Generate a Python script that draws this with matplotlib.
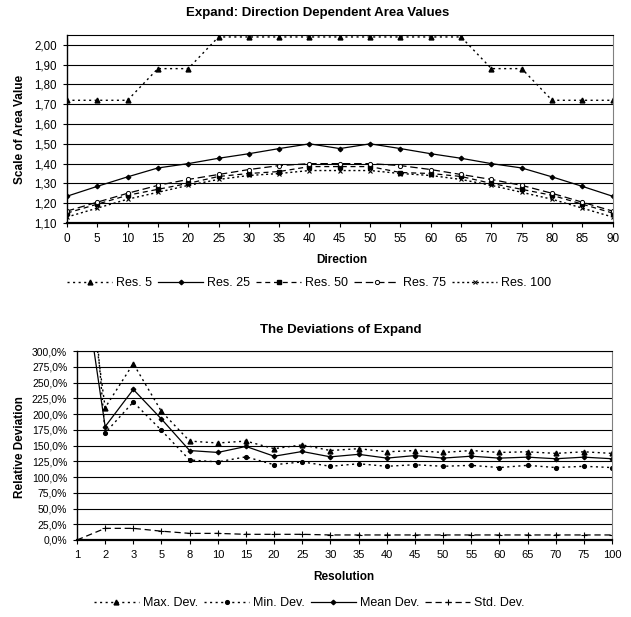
import numpy as np
import matplotlib
matplotlib.use("Agg")
import matplotlib.pyplot as plt
from matplotlib.ticker import FuncFormatter

plt.rcParams["font.family"] = ["Liberation Sans", "DejaVu Sans"]
plt.rcParams["font.size"] = 8

# Top chart : scale of area value per direction
direction = [0, 5, 10, 15, 20, 25, 30, 35, 40, 45, 50, 55, 60, 65, 70, 75, 80, 85, 90]
res5 = [1.72, 1.72, 1.72, 1.88, 1.88, 2.04, 2.04, 2.04, 2.04, 2.04, 2.04, 2.04, 2.04, 2.04, 1.88, 1.88, 1.72, 1.72, 1.72]
res25 = [1.235, 1.285, 1.333, 1.378, 1.40, 1.427, 1.45, 1.476, 1.50, 1.476, 1.50, 1.476, 1.45, 1.427, 1.40, 1.378, 1.333, 1.285, 1.235]
res50 = [1.15, 1.195, 1.24, 1.27, 1.30, 1.335, 1.35, 1.36, 1.385, 1.385, 1.385, 1.355, 1.35, 1.335, 1.30, 1.27, 1.24, 1.195, 1.15]
res75 = [1.16, 1.205, 1.25, 1.29, 1.32, 1.345, 1.37, 1.39, 1.40, 1.40, 1.40, 1.39, 1.37, 1.345, 1.32, 1.29, 1.25, 1.205, 1.16]
res100 = [1.13, 1.175, 1.22, 1.255, 1.29, 1.32, 1.34, 1.35, 1.365, 1.365, 1.365, 1.35, 1.34, 1.32, 1.29, 1.255, 1.22, 1.175, 1.13]

# Bottom chart : deviations in percent per resolution
resolution = ["1", "2", "3", "5", "8", "10", "15", "20", "25", "30", "35", "40", "45", "50", "55", "60", "65", "70", "75", "100"]
max_dev = [545, 210, 280, 204, 157, 154, 157, 145, 151, 142, 145, 140, 142, 139, 142, 139, 140, 137.5, 140, 137.5]
min_dev = [700, 170, 219, 174, 127, 124, 132, 119.5, 124, 117, 121, 117, 119.5, 117, 118.5, 115, 118.5, 115, 117, 115]
mean_dev = [485, 180, 239, 192, 142, 139, 148.5, 133, 140.5, 132, 136, 130, 134, 130, 133, 130, 131.5, 129, 131.5, 129]
std_dev = [0, 18.5, 18.5, 14, 10.5, 10.5, 9, 9, 9, 8, 8, 8, 8, 8, 8, 8, 8, 8, 8, 8]

fig = plt.figure(figsize=(6.31, 6.17), dpi=100)

def style_axes(ax):
	ax.grid(axis="y", color="black", linewidth=0.8)
	ax.set_axisbelow(True)
	ax.spines["bottom"].set_linewidth(1.6)
	ax.spines["left"].set_linewidth(1.0)
	ax.spines["top"].set_linewidth(0.8)
	ax.spines["right"].set_color("#808080")
	ax.spines["right"].set_linewidth(0.8)
	ax.tick_params(axis="both", direction="out", length=3, width=0.8, pad=4)

# ---- top chart
ax1 = fig.add_axes([0.106, 0.6386, 0.865, 0.3047])
ax1.plot(direction, res5, color="black", linestyle=(0, (1.5, 2.5)), lw=1, marker="^", ms=3.5, label="Res. 5")
ax1.plot(direction, res25, color="black", linestyle="-", lw=0.9, marker="D", ms=2.3, label="Res. 25")
ax1.plot(direction, res50, color="black", linestyle=(0, (4, 3)), lw=0.9, marker="s", ms=2.7, label="Res. 50")
ax1.plot(direction, res75, color="black", linestyle=(0, (6, 3)), lw=0.9, marker="o", ms=3, mfc="white", mew=0.7, label="Res. 75")
ax1.plot(direction, res100, color="black", linestyle=(0, (1.5, 2)), lw=1, marker="x", ms=3.2, mew=0.8, label="Res. 100")
ax1.set_xlim(0, 90)
ax1.set_ylim(1.10, 2.05)
ax1.set_xticks(direction)
ax1.set_yticks(np.arange(1.10, 2.001, 0.10))
ax1.yaxis.set_major_formatter(FuncFormatter(lambda v, p: f"{v:.2f}".replace(".", ",")))
style_axes(ax1)
ax1.tick_params(axis="x", labelsize=8.5)
ax1.tick_params(axis="y", labelsize=8.3)

fig.text(0.503, 0.979, "Expand: Direction Dependent Area Values", ha="center", va="center", fontsize=9.5, fontweight="bold")
fig.text(0.541, 0.578, "Direction", ha="center", va="center", fontsize=8.5, fontweight="bold")
fig.text(0.032, 0.79, "Scale of Area Value", ha="center", va="center", rotation=90, fontsize=8.5, fontweight="bold")
h, l = ax1.get_legend_handles_labels()
fig.legend(h, l, loc="center", bbox_to_anchor=(0.49, 0.541), ncol=5, frameon=False, fontsize=9,
	handlelength=3.6, handletextpad=0.3, columnspacing=0.5)

# ---- bottom chart
x = np.arange(len(resolution))
ax2 = fig.add_axes([0.122, 0.1248, 0.848, 0.3063])
ax2.plot(x, max_dev, color="black", linestyle=(0, (1.5, 2.5)), lw=1, marker="^", ms=3.5, label="Max. Dev.")
ax2.plot(x, min_dev, color="black", linestyle=(0, (1.5, 2.5)), lw=1, marker="o", ms=2.7, label="Min. Dev.")
ax2.plot(x, mean_dev, color="black", linestyle="-", lw=0.9, marker="D", ms=2.3, label="Mean Dev.")
ax2.plot(x, std_dev, color="black", linestyle=(0, (5, 3)), lw=0.9, marker="+", ms=4.5, mew=0.8, label="Std. Dev.")
ax2.set_xlim(0, len(resolution) - 1)
ax2.set_ylim(0, 300)
ax2.set_xticks(x)
ax2.set_xticklabels(resolution)
ax2.set_yticks(np.arange(0, 301, 25))
ax2.yaxis.set_major_formatter(FuncFormatter(lambda v, p: f"{v:.1f}%".replace(".", ",")))
style_axes(ax2)
ax2.tick_params(axis="x", labelsize=8)
ax2.tick_params(axis="y", labelsize=7.5)

fig.text(0.540, 0.465, "The Deviations of Expand", ha="center", va="center", fontsize=9.5, fontweight="bold")
fig.text(0.545, 0.065, "Resolution", ha="center", va="center", fontsize=8.5, fontweight="bold")
fig.text(0.032, 0.275, "Relative Deviation", ha="center", va="center", rotation=90, fontsize=8.5, fontweight="bold")
h, l = ax2.get_legend_handles_labels()
fig.legend(h, l, loc="center", bbox_to_anchor=(0.49, 0.0227), ncol=4, frameon=False, fontsize=9,
	handlelength=3.6, handletextpad=0.3, columnspacing=0.5)

fig.savefig("out.png", dpi=100)
